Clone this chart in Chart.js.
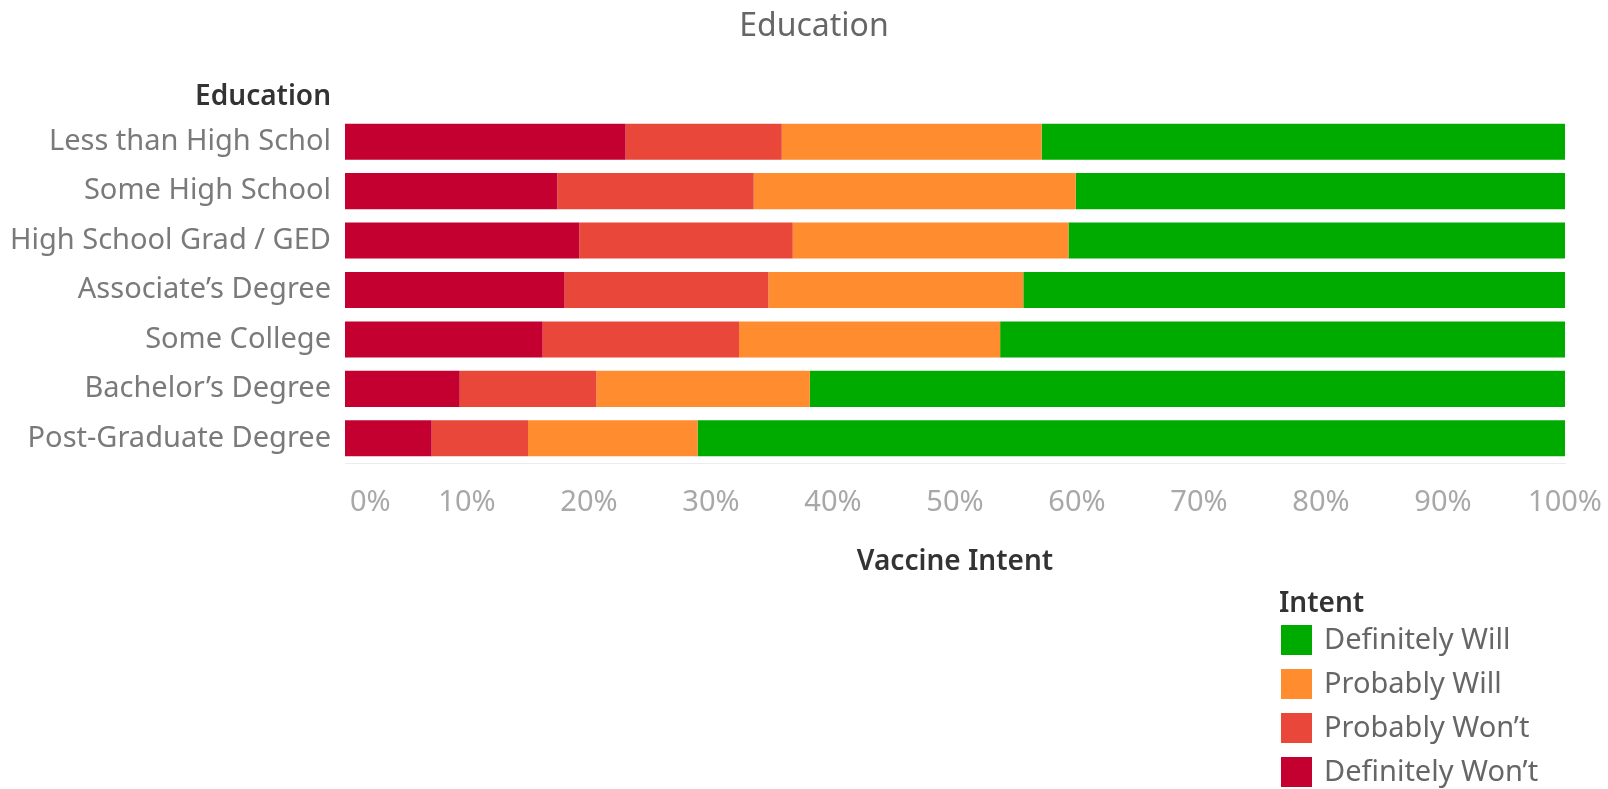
<!DOCTYPE html>
<html>
<head>
<meta charset="utf-8">
<script src="https://cdn.jsdelivr.net/npm/chart.js@4"></script>
<style>
  html, body { margin: 0; padding: 0; background: #fff; }
  #wrap { width: 1608px; height: 789px; }
</style>
</head>
<body>
<div id="wrap"><canvas id="myChart" width="1608" height="789"></canvas></div>
<script>
const categories = [
  "Less than High Schol",
  "Some High School",
  "High School Grad / GED",
  "Associate\u2019s Degree",
  "Some College",
  "Bachelor\u2019s Degree",
  "Post-Graduate Degree",
];

// percent of respondents per education level
const definitelyWont = [23.0, 17.4, 19.2, 18.0, 16.2, 9.4, 7.1];
const probablyWont = [12.8, 16.1, 17.5, 16.7, 16.1, 11.2, 7.9];
const probablyWill = [21.3, 26.4, 22.6, 20.9, 21.4, 17.5, 13.9];
const definitelyWill = [42.9, 40.1, 40.7, 44.4, 46.3, 61.9, 71.1];

const xTicks = [0, 10, 20, 30, 40, 50, 60, 70, 80, 90, 100];

const FONT = "'Noto Sans', sans-serif";

// sheet title, y axis title + legend drawn on the canvas, Tableau style
const sidePlugin = {
  id: "sideText",
  beforeDraw(chart) {
    // tableau keeps the "0%" label inside the axis
    const items = chart.scales.x.getLabelItems(chart.chartArea);
    if (items.length) {
      items[0].options.textAlign = "left";
      items[0].options.translation[0] = chart.chartArea.left + 5;
    }
  },
  afterDraw(chart) {
    const c = chart.ctx;
    c.save();
    c.textBaseline = "middle";
    c.textAlign = "center";
    c.fillStyle = "#666";
    c.font = "32px " + FONT;
    c.fillText("Education", 814, 27);

    c.fillStyle = "#333";
    c.font = "600 28px " + FONT;
    c.textAlign = "right";
    c.fillText("Education", 331, 97);

    // legend
    c.textAlign = "left";
    c.fillText("Intent", 1279, 604);
    const ds = chart.data.datasets.slice().reverse();
    c.font = "29px " + FONT;
    ds.forEach(function (d, i) {
      const y = 640 + i * 44;
      c.fillStyle = d.backgroundColor;
      c.fillRect(1281, y - 15, 31, 30);
      c.fillStyle = "#666";
      c.fillText(d.label, 1324, y + 1);
    });
    c.restore();
  },
};

const ctx = document.getElementById("myChart");

const chart = new Chart(ctx, {
  type: "bar",
  data: {
    labels: categories,
    datasets: [
      { label: "Definitely Won\u2019t", data: definitelyWont, backgroundColor: "#C3002F" },
      { label: "Probably Won\u2019t", data: probablyWont, backgroundColor: "#E8473A" },
      { label: "Probably Will", data: probablyWill, backgroundColor: "#FF8C2E" },
      { label: "Definitely Will", data: definitelyWill, backgroundColor: "#00AB00" },
    ],
  },
  options: {
    responsive: false,
    animation: false,
    indexAxis: "y",
    layout: { padding: { left: 0, right: 43, top: 117, bottom: 206 } },
    datasets: { bar: { categoryPercentage: 1, barPercentage: 0.73 } },
    plugins: {
      legend: { display: false },
      tooltip: { enabled: false },
    },
    scales: {
      x: {
        stacked: true,
        min: 0,
        max: 100,
        afterBuildTicks: (s) => { s.ticks = xTicks.map((v) => ({ value: v })); },
        afterFit: (s) => {
          s.height = 120;
          s.paddingLeft = 0;
          s.paddingRight = 0;
        },
        grid: { display: false, drawTicks: false },
        border: { color: "#ececec" },
        ticks: {
          callback: (v) => v + "%",
          color: "#a8a8a8",
          padding: 22,
          maxRotation: 0,
          font: { family: FONT, size: 29 },
        },
        title: {
          display: true,
          text: "Vaccine Intent",
          color: "#333",
          padding: { top: 4, bottom: 4 },
          font: { family: FONT, size: 28, weight: "600" },
        },
      },
      y: {
        stacked: true,
        afterFit: (s) => { s.width = 345; },
        grid: { display: false, drawTicks: false },
        border: { display: false },
        ticks: {
          color: "#7a7a7a",
          padding: 14,
          font: { family: FONT, size: 29 },
        },
      },
    },
  },
  plugins: [sidePlugin],
});
</script>
</body>
</html>
